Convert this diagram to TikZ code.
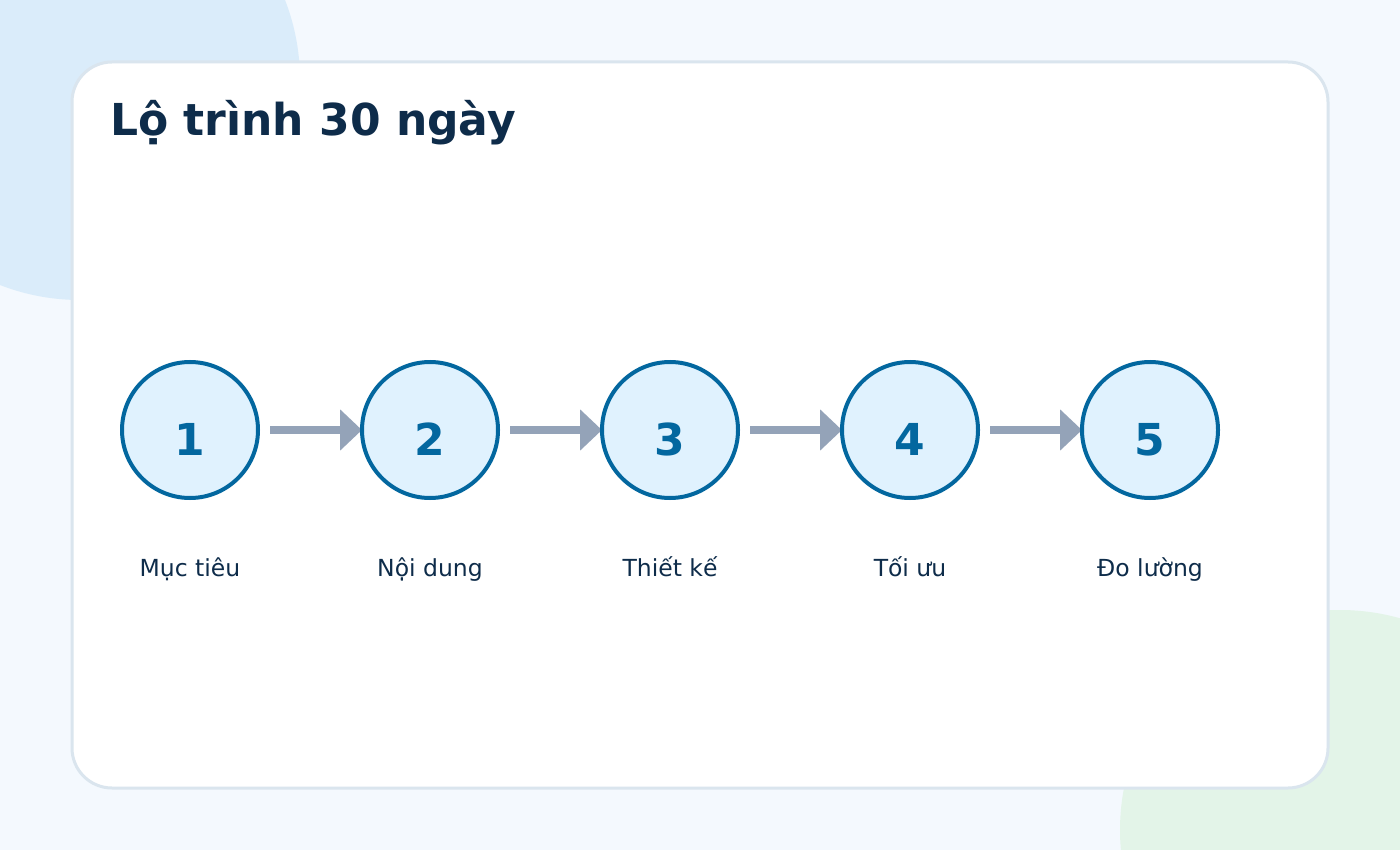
\documentclass[tikz,border=0pt]{standalone}
\usepackage{fontspec}
\setmainfont{DejaVu Sans}
\usetikzlibrary{arrows.meta}
\pgfdeclarelayer{back}
\pgfdeclarelayer{arrowlayer}
\pgfsetlayers{back,arrowlayer,main}
\definecolor{bgc}{HTML}{F4F9FE}
\definecolor{blobblue}{HTML}{DAECFA}
\definecolor{blobgreen}{HTML}{E3F4E8}
\definecolor{cardline}{HTML}{DAE5EE}
\definecolor{navy}{HTML}{0E2C4A}
\definecolor{stepblue}{HTML}{03679F}
\definecolor{stepfill}{HTML}{E0F2FE}
\definecolor{arrowc}{HTML}{94A3B8}
\tikzset{
  stepcircle/.style={circle, draw=stepblue, line width=4pt, fill=stepfill,
    minimum size=136pt, inner sep=0pt, outer sep=0pt},
  stepnum/.style={anchor=base, text=stepblue, font=\fontsize{44}{50}\selectfont\bfseries},
  steplabel/.style={anchor=base, text=navy, font=\fontsize{23.5}{28}\selectfont},
  flowarrow/.style={draw=arrowc, line width=8pt,
    -{Triangle[length=22pt,width=40pt]}, shorten <=12pt}
}
\begin{document}
\begin{tikzpicture}[x=1pt,y=-1pt]
\useasboundingbox (0,0) rectangle (1400,850);
\begin{pgfonlayer}{back}
\fill[bgc] (0,0) rectangle (1400,850);
\begin{scope}
\clip (0,0) rectangle (1400,850);
\fill[blobblue] (80,80) circle (220);
\fill[blobgreen] (1340,830) circle (220);
\end{scope}
\draw[cardline, line width=3pt, fill=white, rounded corners=40pt] (72,62) rectangle (1328,788);
\end{pgfonlayer}
\node[anchor=base west, text=navy, font=\fontsize{44}{50}\selectfont\bfseries, inner sep=0pt] (title) at (110,136) {Lộ trình 30 ngày};
\foreach \i/\x/\t in {1/190/Mục tiêu,2/430/Nội dung,3/670/Thiết kế,4/910/Tối ưu,5/1150/Đo lường}{
  \node[stepcircle] (c\i) at (\x,430) {};
  \node[stepnum] (n\i) at (\x,455) {\i};
  \node[steplabel] (l\i) at (\x,576) {\t};
}
\begin{pgfonlayer}{arrowlayer}
\foreach \a/\b in {1/2,2/3,3/4,4/5}{
  \draw[flowarrow] (c\a.east) -- (c\b.west);
}
\end{pgfonlayer}
\end{tikzpicture}
\end{document}
